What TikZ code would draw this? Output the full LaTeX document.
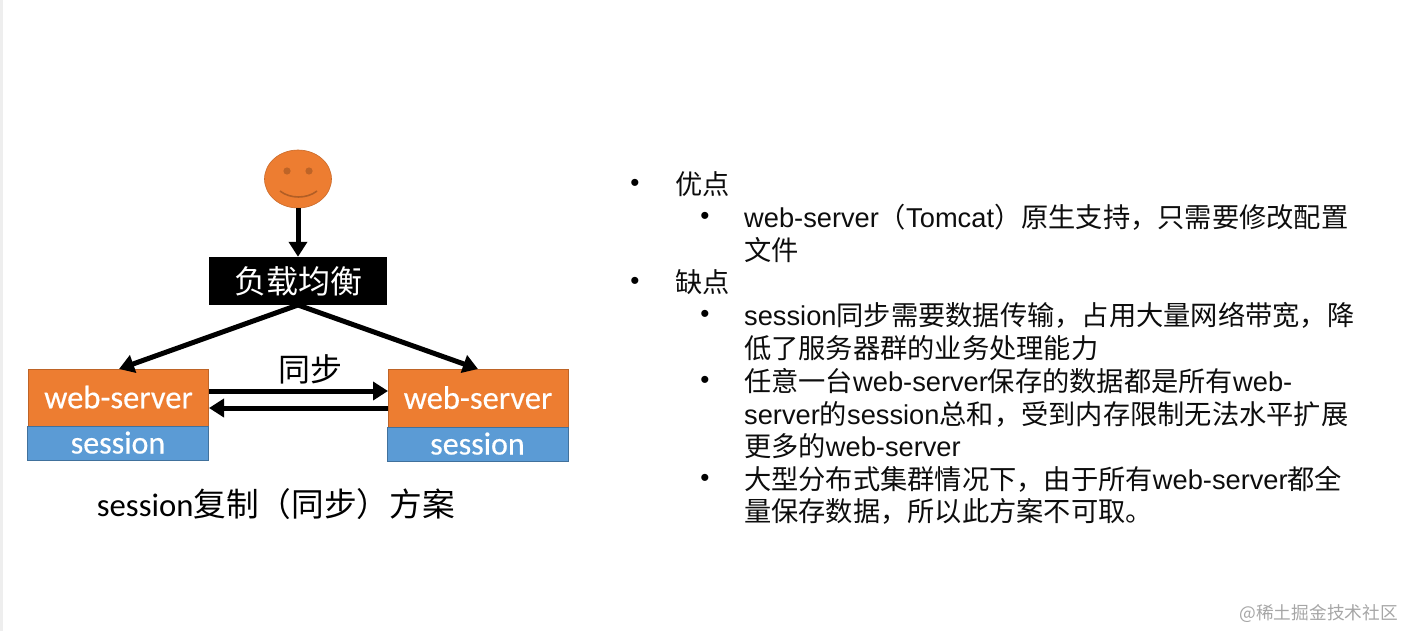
\documentclass[tikz,border=0pt]{standalone}
\usepackage{fontspec}
\usepackage{amsmath,amssymb}
\usetikzlibrary{shapes.geometric,arrows.meta}
\setmainfont{Liberation Sans}
\newfontfamily\cjk{Noto Sans CJK SC}
\newfontfamily\calib{Carlito}
\newfontfamily\calibw[FakeBold=0.4]{Carlito}
\newcommand{\zh}[1]{{\cjk #1}}
\definecolor{faceorange}{HTML}{ED7D31}
\definecolor{boxblue}{HTML}{5B9BD5}
\definecolor{edgeblue}{HTML}{41719C}
\definecolor{stripgray}{HTML}{EEEEEE}
\tikzset{
  serverbox/.style={fill=faceorange, draw=faceorange!80!black, line width=0.6pt, inner sep=0pt, text=white, font=\calibw\fontsize{32.5}{32.5}\selectfont},
  sessionbox/.style={fill=boxblue, draw=edgeblue, line width=0.6pt, inner sep=0pt, text=white, font=\calibw\fontsize{32}{32}\selectfont},
  flow/.style={-{Triangle[length=15pt,width=18pt]}, black, line width=5pt},
  textline/.style={anchor=west, inner sep=0pt, font=\fontsize{27.25}{27.25}\selectfont, text=black!95},
}
\begin{document}
\begin{tikzpicture}[x=1pt,y=-1pt]
  \useasboundingbox (0,0) rectangle (1405,631);
  \fill[stripgray] (0,0) rectangle (3,631);
  % user
  \node[ellipse, fill=faceorange, draw=faceorange!85!black, line width=0.6pt, minimum width=67pt, minimum height=58pt, inner sep=0pt] (user) at (298,179) {};
  \fill[faceorange!80!black] (287,171) circle (3.6pt);
  \fill[faceorange!80!black] (309,171) circle (3.6pt);
  \draw[faceorange!75!black, line width=1.6pt] (280,191) .. controls (290,199) and (307,199) .. (317,191);
  % balancer
  \node[fill=black, text=white, inner sep=0pt, minimum width=178pt, minimum height=48pt, font=\cjk\fontsize{32}{32}\selectfont] (balancer) at (298,281) {负载均衡};
  % servers
  \node[serverbox, minimum width=180pt, minimum height=57pt] (serverl) at (118.5,397.5) {\raisebox{1pt}{web-server}};
  \node[serverbox, minimum width=180pt, minimum height=58pt] (serverr) at (478,398) {\raisebox{1pt}{web-server}};
  \node[sessionbox, minimum width=181pt, minimum height=34pt] (sessionl) at (118,443) {\raisebox{1pt}{session}};
  \node[sessionbox, minimum width=181pt, minimum height=34pt] (sessionr) at (477.5,444) {\raisebox{1pt}{session}};
  \coordinate (lbtip) at (298,305);
  \coordinate (tipl) at (119,369);
  \coordinate (tipr) at (478,369);
  \draw[flow] (user.south) -- (balancer.north);
  \draw[flow] (lbtip) -- (tipl);
  \draw[flow] (lbtip) -- (tipr);
  \coordinate (syncal) at (209,391);
  \coordinate (syncar) at (388,391);
  \coordinate (syncbl) at (209,408);
  \coordinate (syncbr) at (388,408);
  \draw[flow] (syncal) -- (syncar);
  \draw[flow] (syncbr) -- (syncbl);
  \node[inner sep=0pt, font=\cjk\fontsize{32}{32}\selectfont] (synclabel) at (310,369) {同步};
  \node[inner sep=0pt, font=\calib\fontsize{32.7}{32.7}\selectfont] (caption) at (276,504) {session\zh{复制（同步）方案}};
  % list on the right
  \foreach \n/\y in {a/185, b/283}{
      \node[inner sep=0pt, font=\fontsize{26}{26}\selectfont] (dot\n) at (635,\y) {•};
  }
  \foreach \n/\y in {c/218, d/316, e/382, f/480}{
      \node[inner sep=0pt, font=\fontsize{26}{26}\selectfont] (dot\n) at (705,\y) {•};
  }
  \foreach \n/\x/\y/\t in {
      a/675/184/{\zh{优点}},
      b/744/217/{web-server\zh{（}Tomcat\zh{）原生支持，只需要修改配置}},
      c/744/250/{\zh{文件}},
      d/675/282/{\zh{缺点}},
      e/744/315/{session\zh{同步需要数据传输，占用大量网络带宽，降}},
      f/744/348/{\zh{低了服务器群的业务处理能力}},
      g/744/381/{\zh{任意一台}web-server\zh{保存的数据都是所有}web-},
      h/744/414/{server\zh{的}session\zh{总和，受到内存限制无法水平扩展}},
      i/744/446/{\zh{更多的}web-server},
      j/744/479/{\zh{大型分布式集群情况下，由于所有}web-server\zh{都全}},
      k/744/511/{\zh{量保存数据，所以此方案不可取。}}}{
      \node[textline] (line\n) at (\x,\y) {\t};
  }
  \node[anchor=east, inner sep=0pt, text=black!35, font=\cjk\fontsize{17.7}{17.7}\selectfont] (mark) at (1398,614) {@稀土掘金技术社区};
\end{tikzpicture}
\end{document}
